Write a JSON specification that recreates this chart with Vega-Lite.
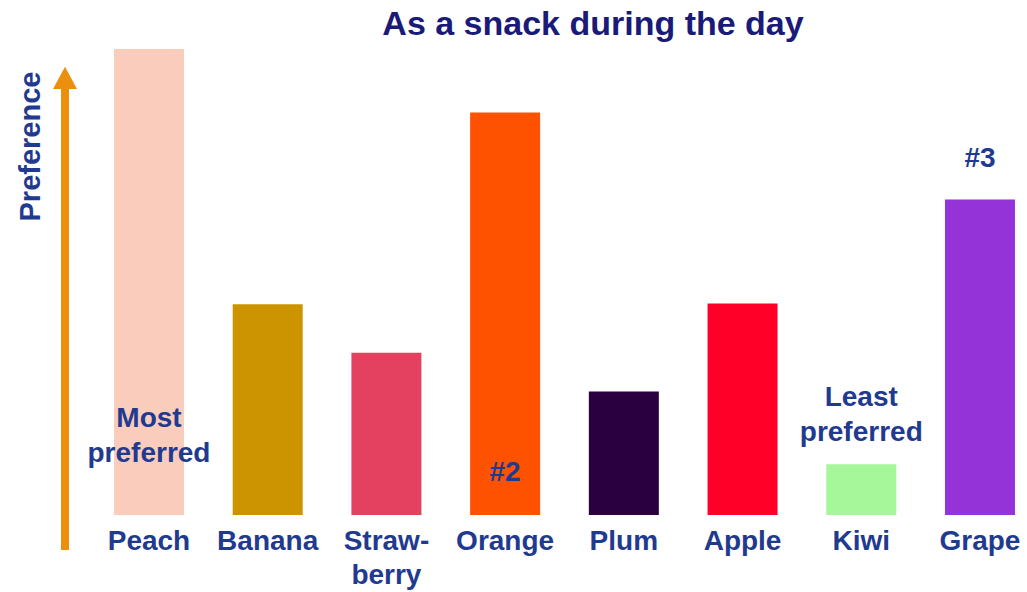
{
  "$schema": "https://vega.github.io/schema/vega-lite/v6.json",
  "width": 962,
  "height": 466,
  "autosize": {"type": "none"},
  "padding": {"left": 65, "top": 49, "right": 0, "bottom": 77},
  "background": "white",
  "config": {"view": {"stroke": null}},
  "title": {
    "text": "As a snack during the day",
    "font": "Liberation Sans",
    "fontSize": 34,
    "fontWeight": "bold",
    "color": "#1A1A78",
    "anchor": "middle",
    "dx": 47,
    "dy": 32,
    "offset": 12,
    "baseline": "alphabetic"
  },
  "layer": [
    {
      "layer": [
        {
          "data": {
            "values": [
              {"fruit": "Peach", "preference": 100},
              {"fruit": "Banana", "preference": 45.2},
              {"fruit": "Strawberry", "preference": 34.8},
              {"fruit": "Orange", "preference": 86.4},
              {"fruit": "Plum", "preference": 26.5},
              {"fruit": "Apple", "preference": 45.4},
              {"fruit": "Kiwi", "preference": 10.9},
              {"fruit": "Grape", "preference": 67.7}
            ]
          },
          "mark": {"type": "bar"},
          "encoding": {
            "x": {
              "field": "fruit",
              "type": "nominal",
              "sort": null,
              "scale": {
                "domain": ["Peach", "Banana", "Strawberry", "Orange", "Plum", "Apple", "Kiwi", "Grape"],
                "paddingInner": 0.4103,
                "paddingOuter": 0.2569,
                "align": 0.803
              },
              "axis": {
                "title": null,
                "domain": false,
                "ticks": false,
                "labelAngle": 0,
                "labelFont": "Liberation Sans",
                "labelFontSize": 28,
                "labelFontWeight": "bold",
                "labelColor": "#1F3A8F",
                "labelPadding": 12,
                "labelLineHeight": 34,
                "labelOverlap": false,
                "labelBound": false,
                "labelFlush": false,
                "labelLimit": 0,
                "labelExpr": "datum.value == 'Strawberry' ? ['Straw-', 'berry'] : datum.value"
              }
            },
            "y": {
              "field": "preference",
              "type": "quantitative",
              "scale": {"domain": [0, 100], "nice": false, "zero": false},
              "axis": {
                "title": "Preference",
                "titleFont": "Liberation Sans",
                "titleFontSize": 29,
                "titleFontWeight": "bold",
                "titleColor": "#1F3A8F",
                "titleAngle": -90,
                "titleAlign": "center",
                "titleBaseline": "middle",
                "titleX": -35,
                "titleY": 97,
                "labels": false,
                "ticks": false,
                "domain": false,
                "grid": false
              }
            },
            "color": {
              "field": "fruit",
              "type": "nominal",
              "scale": {
                "domain": ["Peach", "Banana", "Strawberry", "Orange", "Plum", "Apple", "Kiwi", "Grape"],
                "range": ["#F9CCBC", "#CC9500", "#E3415F", "#FF5200", "#2B0040", "#FF0028", "#A6F79A", "#9333D8"]
              },
              "legend": null
            }
          }
        },
        {
          "data": {
            "values": [
              {"fruit": "Peach", "pos": 20.5, "note": "Most\npreferred"},
              {"fruit": "Orange", "pos": 9.0, "note": "#2"},
              {"fruit": "Kiwi", "pos": 25.1, "note": "Least\npreferred"},
              {"fruit": "Grape", "pos": 76.5, "note": "#3"}
            ]
          },
          "mark": {
            "type": "text",
            "font": "Liberation Sans",
            "fontSize": 28,
            "fontWeight": "bold",
            "color": "#1F3A8F",
            "align": "center",
            "baseline": "middle",
            "lineBreak": "\n",
            "lineHeight": 35
          },
          "encoding": {
            "x": {"field": "fruit", "type": "nominal", "sort": null},
            "y": {"field": "pos", "type": "quantitative"},
            "text": {"field": "note", "type": "nominal"}
          }
        }
      ]
    },
    {
      "layer": [
        {
          "data": {"values": [{"where": 0, "from": -7.5, "to": 91.8}]},
          "mark": {"type": "rule", "color": "#EB8F0C", "strokeWidth": 8},
          "encoding": {
            "x": {"field": "where", "type": "quantitative", "scale": {"domain": [0, 1]}, "axis": null},
            "y": {"field": "from", "type": "quantitative"},
            "y2": {"field": "to"}
          }
        },
        {
          "data": {"values": [{"where": 0, "tip": 93.8}]},
          "mark": {
            "type": "point",
            "shape": "M0,-0.92L1,0.92L-1,0.92Z",
            "size": 576,
            "filled": true,
            "color": "#EB8F0C",
            "opacity": 1,
            "strokeWidth": 0
          },
          "encoding": {
            "x": {"field": "where", "type": "quantitative", "scale": {"domain": [0, 1]}, "axis": null},
            "y": {"field": "tip", "type": "quantitative"}
          }
        }
      ]
    }
  ],
  "resolve": {"scale": {"x": "independent"}}
}
